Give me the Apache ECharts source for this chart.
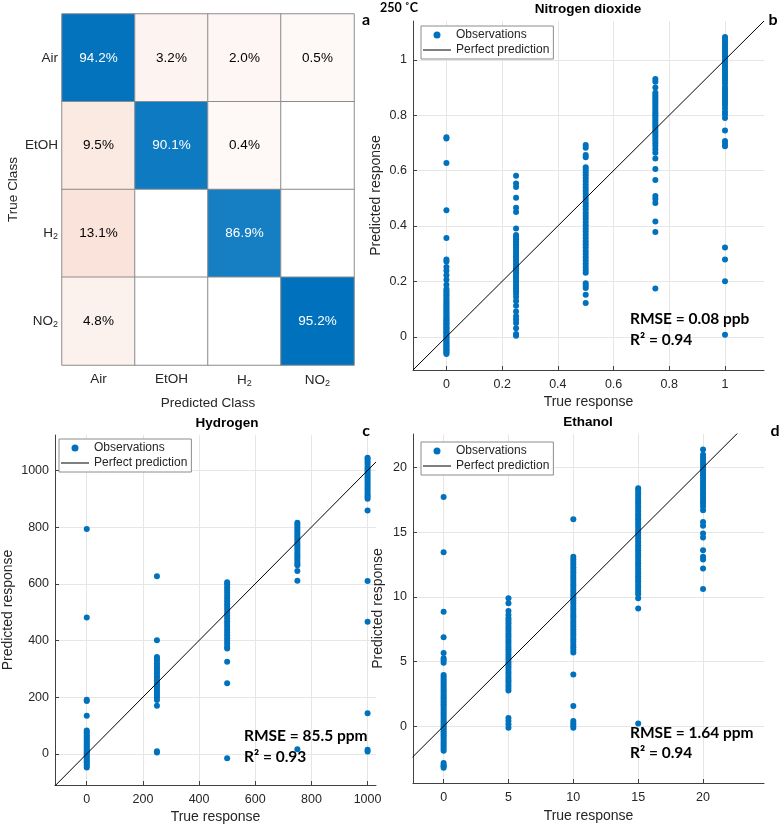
<!DOCTYPE html>
<html>
<head>
<meta charset="utf-8">
<script src="https://cdn.jsdelivr.net/npm/echarts@6/dist/echarts.min.js"></script>
<style>html,body{margin:0;padding:0;background:#fff}#c{width:780px;height:828px}</style>
</head>
<body>
<div id="c"></div>
<script>
// ---------- data ----------
const classes = ['Air', 'EtOH', 'H2', 'NO2'];
const confMatrix = [
  [94.2, 3.2, 2.0, 0.5],
  [9.5, 90.1, 0.4, 0],
  [13.1, 0, 86.9, 0],
  [4.8, 0, 0, 95.2]
];

const no2True = [0, 0.25, 0.5, 0.75, 1];
const no2Pred = [
  [-0.062,-0.058,-0.054,-0.049,-0.045,-0.04,-0.036,-0.031,-0.026,-0.022,-0.018,-0.012,-0.008,-0.003,0.001,0.006,0.011,0.016,0.02,0.025,0.03,0.034,0.039,0.044,0.049,0.054,0.059,0.063,0.069,0.074,0.08,0.086,0.091,0.097,0.103,0.109,0.115,0.121,0.127,0.134,0.14,0.147,0.153,0.16,0.166,0.172,0.188,0.206,0.222,0.238,0.252,0.272,0.279,0.357,0.457,0.627,0.716,0.72],
  [0.004,0.01,0.031,0.05,0.062,0.074,0.091,0.112,0.129,0.144,0.155,0.164,0.172,0.18,0.187,0.195,0.203,0.21,0.218,0.225,0.233,0.24,0.247,0.255,0.262,0.27,0.277,0.285,0.292,0.3,0.307,0.315,0.322,0.33,0.337,0.345,0.352,0.36,0.367,0.391,0.45,0.466,0.502,0.541,0.553,0.581],
  [0.122,0.152,0.176,0.184,0.193,0.231,0.241,0.252,0.264,0.275,0.287,0.299,0.31,0.322,0.334,0.345,0.357,0.368,0.38,0.391,0.403,0.414,0.426,0.437,0.448,0.46,0.471,0.482,0.494,0.505,0.516,0.527,0.538,0.55,0.561,0.572,0.583,0.594,0.604,0.612,0.648,0.656,0.682,0.692],
  [0.174,0.378,0.416,0.483,0.497,0.508,0.566,0.606,0.644,0.664,0.677,0.689,0.699,0.709,0.718,0.726,0.734,0.742,0.75,0.758,0.765,0.773,0.78,0.788,0.796,0.803,0.811,0.819,0.826,0.834,0.842,0.85,0.858,0.866,0.873,0.881,0.9,0.921,0.931],
  [0.007,0.2,0.279,0.322,0.688,0.697,0.707,0.745,0.79,0.802,0.812,0.825,0.837,0.846,0.854,0.862,0.87,0.878,0.886,0.894,0.903,0.914,0.924,0.932,0.94,0.948,0.956,0.964,0.972,0.98,0.988,0.996,1.004,1.012,1.02,1.028,1.036,1.044,1.052,1.06,1.067,1.075,1.082]
];
const no2Line = [[-0.12, -0.12], [1.14, 1.14]];
const no2Ticks = [0, 0.2, 0.4, 0.6, 0.8, 1];

const h2True = [0, 250, 500, 750, 1000];
const h2Pred = [
  [-48,-42,-36,-30,-24,-18,-12,-6,0,5,10,16,22,28,34,40,46,52,58,64,70,76,82,134,186,191,481,793],
  [5,9,170,190,200,208,215,222,230,238,245,252,260,268,275,283,290,298,305,312,320,328,335,342,401,627],
  [-16,249,325,372,378,388,398,408,418,428,438,448,458,468,478,488,498,508,518,528,538,548,558,568,578,588,598,605],
  [16,611,645,665,672,680,688,696,704,712,720,728,736,744,752,760,768,776,784,792,800,808,815],
  [8,14,143,466,610,859,900,906,912,920,928,936,944,952,960,968,976,984,992,1000,1008,1016,1024,1032,1040,1045]
];
const h2Line = [[-115, -115], [1030, 1030]];
const h2Ticks = [0, 200, 400, 600, 800, 1000];

const etohTrue = [0, 5, 10, 15, 20];
const etohPred = [
  [-3.22,-3.1,-3.0,-2.85,-1.9,-1.75,-1.6,-1.45,-1.3,-1.15,-1.0,-0.85,-0.7,-0.55,-0.4,-0.25,-0.1,0.05,0.2,0.35,0.5,0.65,0.8,0.95,1.1,1.25,1.4,1.55,1.7,1.85,2.0,2.15,2.3,2.45,2.6,2.75,2.9,3.05,3.2,3.35,3.5,3.65,3.8,3.95,4.9,5.1,5.25,5.65,6.88,8.84,13.45,17.73],
  [-0.12,0.15,0.4,0.62,2.75,2.95,3.15,3.35,3.55,3.75,3.95,4.15,4.35,4.55,4.75,4.95,5.15,5.35,5.55,5.75,5.95,6.15,6.35,6.55,6.75,6.95,7.15,7.35,7.55,7.75,7.95,8.15,8.35,8.6,8.9,9.5,9.9],
  [-0.13,0.05,0.2,0.4,1.55,4.0,5.7,5.9,6.1,6.3,6.5,6.7,6.9,7.1,7.3,7.5,7.7,7.9,8.1,8.3,8.5,8.7,8.9,9.1,9.3,9.5,9.7,9.9,10.1,10.3,10.5,10.7,10.9,11.1,11.3,11.5,11.7,11.9,12.1,12.3,12.5,12.7,12.9,13.1,16.0],
  [0.2,9.1,9.9,10.2,10.4,10.6,10.8,11.0,11.2,11.4,11.6,11.8,12.0,12.2,12.4,12.6,12.8,13.0,13.2,13.4,13.6,13.8,14.0,14.2,14.4,14.6,14.8,15.0,15.2,15.4,15.6,15.8,16.0,16.2,16.4,16.6,16.8,17.0,17.2,17.4,17.6,17.8,18.0,18.2,18.4],
  [10.6,12.2,12.9,13.1,13.6,14.6,14.9,15.5,15.8,16.7,17.0,17.2,17.4,17.6,17.8,18.0,18.2,18.4,18.6,18.8,19.0,19.2,19.4,19.6,19.8,20.0,20.2,20.4,20.6,20.8,21.0,21.4]
];
const etohLine = [[-2.4, -2.4], [22.7, 22.7]];
const etohTicks = [0, 5, 10, 15, 20];

// ---------- helpers ----------
const BLUE = [0, 114, 189];
const RED = [217, 83, 25];
function mix(c, t) {
  const r = Math.round(255 + (c[0] - 255) * t);
  const g = Math.round(255 + (c[1] - 255) * t);
  const b = Math.round(255 + (c[2] - 255) * t);
  return 'rgb(' + r + ',' + g + ',' + b + ')';
}
let maxDiag = 0;
confMatrix.forEach((row, i) => { if (row[i] > maxDiag) maxDiag = row[i]; });
const heatData = [];
confMatrix.forEach((row, r) => {
  row.forEach((v, c) => {
    const diag = r === c;
    const color = diag ? mix(BLUE, v / maxDiag) : (v > 0 ? mix(RED, 0.03 + v / 100) : '#ffffff');
    heatData.push({ value: [c, r, v], itemStyle: { color: color }, label: { color: diag ? '#ffffff' : '#000000' } });
  });
});
function toPairs(xs, ys) {
  const out = [];
  xs.forEach((x, i) => ys[i].forEach(y => out.push([x, y])));
  return out;
}
function catLabel(v) {
  if (v === 'H2') return 'H{s|2}';
  if (v === 'NO2') return 'NO{s|2}';
  return v;
}
const TXT = '#262626';
const FF = '"Liberation Sans", Arial, sans-serif';
const subRich = { s: { fontSize: 9, padding: [7, 0, 0, 0], color: TXT, fontFamily: FF } };

function valueAxis(gridIndex, min, max, ticks, name, nameGap, isY) {
  return {
    type: 'value', gridIndex: gridIndex, min: min, max: max,
    name: name, nameLocation: 'middle', nameGap: nameGap,
    nameTextStyle: { fontSize: 14, color: TXT, fontFamily: FF },
    axisLine: { show: true, onZero: false, lineStyle: { color: '#404040', width: 1 } },
    axisTick: { show: true, inside: true, length: 4, customValues: ticks, lineStyle: { color: '#404040' } },
    axisLabel: { customValues: ticks, fontSize: 12.5, color: TXT, fontFamily: FF, margin: isY ? 6 : 8,
      showMinLabel: true, showMaxLabel: true, formatter: v => String(v) },
    splitLine: { show: true, lineStyle: { color: '#e6e6e6', width: 1 } }
  };
}
function legend(left, top) {
  return {
    left: left, top: top, orient: 'vertical', itemWidth: 28, itemHeight: 7, itemGap: 3,
    padding: [3, 4, 3, 2], borderColor: '#8c8c8c', borderWidth: 1, backgroundColor: '#ffffff',
    textStyle: { fontSize: 12, color: TXT, fontFamily: FF },
    data: [
      { name: 'Observations', icon: 'circle' },
      { name: 'Perfect prediction', icon: 'path://M0,0 L100,0 L100,3.6 L0,3.6 Z', itemStyle: { color: '#000000' } }
    ],
    selectedMode: false
  };
}
function scatter(xi, pts) {
  return { type: 'scatter', name: 'Observations', xAxisIndex: xi, yAxisIndex: xi, data: pts,
    symbol: 'circle', symbolSize: 6, itemStyle: { color: '#0072BD', opacity: 1 }, z: 2 };
}
function diagLine(xi, pts) {
  return { type: 'line', name: 'Perfect prediction', xAxisIndex: xi, yAxisIndex: xi, data: pts,
    symbol: 'none', showSymbol: false, clip: true, lineStyle: { color: '#000000', width: 1 }, itemStyle: { color: '#000000' }, z: 3 };
}
function txt(x, y, text, font, align) {
  return { type: 'text', x: x, y: y, z: 100,
    style: { text: text, font: font, fill: '#000000', textAlign: align || 'center', textVerticalAlign: 'middle', align: align || 'center', verticalAlign: 'middle' } };
}
const BOLDC = 'bold 16px Lato';
const TITLEF = 'bold 13.5px "Liberation Sans"';

const option = {
  animation: false,
  backgroundColor: '#ffffff',
  textStyle: { fontFamily: FF },
  grid: [
    { left: 62, top: 14, width: 292, height: 351 },
    { left: 413, top: 21, width: 351, height: 349 },
    { left: 52, top: 435, width: 324, height: 350 },
    { left: 413, top: 434, width: 351, height: 349 }
  ],
  xAxis: [
    { type: 'category', gridIndex: 0, data: classes, position: 'bottom',
      name: 'Predicted Class', nameLocation: 'middle', nameGap: 31,
      nameTextStyle: { fontSize: 13.5, color: TXT, fontFamily: FF },
      axisLine: { show: false }, axisTick: { show: false }, splitLine: { show: false },
      axisLabel: { fontSize: 13.5, color: TXT, fontFamily: FF, margin: 7, formatter: catLabel, rich: subRich } },
    valueAxis(1, -0.12, 1.14, no2Ticks, 'True response', 25, false),
    valueAxis(2, -113, 1030, h2Ticks, 'True response', 25, false),
    valueAxis(3, -2.36, 24.7, etohTicks, 'True response', 26, false)
  ],
  yAxis: [
    { type: 'category', gridIndex: 0, data: classes, inverse: true,
      name: 'True Class', nameLocation: 'middle', nameGap: 42,
      nameTextStyle: { fontSize: 13.5, color: TXT, fontFamily: FF },
      axisLine: { show: false }, axisTick: { show: false }, splitLine: { show: false },
      axisLabel: { fontSize: 13.5, color: TXT, fontFamily: FF, margin: 4, formatter: catLabel, rich: subRich } },
    valueAxis(1, -0.12, 1.14, no2Ticks, 'Predicted response', 30, true),
    valueAxis(2, -110, 1125, h2Ticks, 'Predicted response', 40, true),
    valueAxis(3, -4.4, 22.6, etohTicks, 'Predicted response', 28, true)
  ],
  legend: [legend(421, 26), legend(59, 439), legend(421, 442)],
  series: [
    { type: 'heatmap', xAxisIndex: 0, yAxisIndex: 0, data: heatData,
      itemStyle: { borderColor: '#8c8c8c', borderWidth: 1 },
      label: { show: true, fontSize: 13.5, fontFamily: FF,
        formatter: p => p.value[2] > 0 ? p.value[2].toFixed(1) + '%' : '' } },
    scatter(1, toPairs(no2True, no2Pred)), diagLine(1, no2Line),
    scatter(2, toPairs(h2True, h2Pred)), diagLine(2, h2Line),
    scatter(3, toPairs(etohTrue, etohPred)), diagLine(3, etohLine)
  ],
  graphic: [
    txt(380, 8, '250 ˚C', 'bold 12.5px Lato', 'left'),
    txt(366, 20, 'a', BOLDC), txt(773, 20, 'b', BOLDC), txt(366, 431, 'c', BOLDC), txt(775, 431, 'd', BOLDC),
    txt(588, 9, 'Nitrogen dioxide', TITLEF), txt(227, 423, 'Hydrogen', TITLEF), txt(588, 422, 'Ethanol', TITLEF),
    txt(630, 319, 'RMSE = 0.08 ppb', 'bold 15.5px Lato', 'left'), txt(630, 340, 'R² = 0.94', 'bold 15.5px Lato', 'left'),
    txt(244, 736, 'RMSE = 85.5 ppm', 'bold 15.5px Lato', 'left'), txt(244, 757, 'R² = 0.93', 'bold 15.5px Lato', 'left'),
    txt(630, 733, 'RMSE = 1.64 ppm', 'bold 15.5px Lato', 'left'), txt(630, 753, 'R² = 0.94', 'bold 15.5px Lato', 'left')
  ]
};
const chart = echarts.init(document.getElementById('c'), null, { renderer: 'canvas' });
chart.setOption(option);
</script>
</body>
</html>
